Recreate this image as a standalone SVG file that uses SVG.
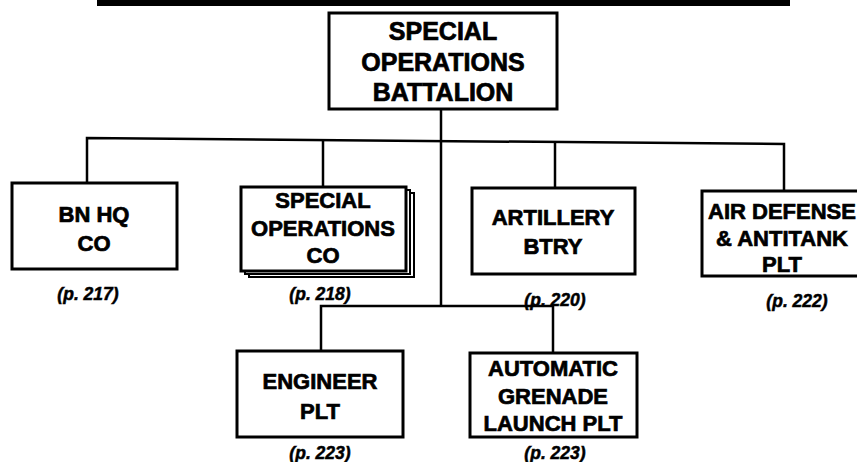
<svg xmlns="http://www.w3.org/2000/svg" width="857" height="462" viewBox="0 0 857 462">
<style>
.box{fill:#fff;stroke:#000;stroke-width:3}
.sh{fill:#fff;stroke:#000;stroke-width:2}
.t{font-family:"Liberation Sans",Arial,sans-serif;font-weight:bold;font-size:22px;text-anchor:middle;fill:#000;stroke:#000;stroke-width:0.7}
.tb{font-size:25px}
.p{font-family:"Liberation Sans",Arial,sans-serif;font-weight:bold;font-style:italic;font-size:17.5px;text-anchor:middle;fill:#000;stroke:#000;stroke-width:0.5}
.c{fill:none;stroke:#000;stroke-width:2.5}
</style>
<rect x="97" y="0" width="693" height="6" fill="#000"/>
<g id="connectors">
<path class="c" d="M441 110 V306"/>
<path class="c" d="M87 183 V138 L784 144 V191"/>
<path class="c" d="M323 140 V187"/>
<path class="c" d="M555 142 V188"/>
<path class="c" d="M321 351 V306 H553 V353"/>
</g>
<g id="battalion">
<rect class="box" x="329" y="13" width="228" height="96"/>
<text class="t tb" x="443" y="40">SPECIAL</text>
<text class="t tb" x="443" y="71">OPERATIONS</text>
<text class="t tb" x="443" y="101">BATTALION</text>
</g>
<g id="bnhq">
<rect class="box" x="12" y="183" width="165" height="86"/>
<text class="t" x="94" y="222">BN HQ</text>
<text class="t" x="94" y="251">CO</text>
<text class="p" x="88" y="300">(p. 217)</text>
</g>
<g id="soco">
<rect class="sh" x="249" y="193" width="165" height="84"/>
<rect class="sh" x="245" y="190" width="165" height="84"/>
<rect class="box" x="241" y="187" width="165" height="84"/>
<text class="t" x="323" y="208">SPECIAL</text>
<text class="t" x="323" y="236">OPERATIONS</text>
<text class="t" x="323" y="263">CO</text>
<text class="p" x="320" y="300">(p. 218)</text>
</g>
<g id="artillery">
<rect class="box" x="472" y="188" width="163" height="86"/>
<text class="t" x="553" y="225">ARTILLERY</text>
<text class="t" x="553" y="254">BTRY</text>
<text class="p" x="555" y="306">(p. 220)</text>
</g>
<g id="airdefense">
<rect class="box" x="702" y="191" width="162" height="85"/>
<text class="t" x="782" y="219">AIR DEFENSE</text>
<text class="t" x="782" y="246">&amp; ANTITANK</text>
<text class="t" x="782" y="272">PLT</text>
<text class="p" x="797" y="307">(p. 222)</text>
</g>
<g id="engineer">
<rect class="box" x="237" y="351" width="166" height="86"/>
<text class="t" x="320" y="389">ENGINEER</text>
<text class="t" x="320" y="419">PLT</text>
<text class="p" x="320" y="459">(p. 223)</text>
</g>
<g id="agl">
<rect class="box" x="470" y="353" width="167" height="84"/>
<text class="t" x="553" y="376">AUTOMATIC</text>
<text class="t" x="553" y="404">GRENADE</text>
<text class="t" x="553" y="431">LAUNCH PLT</text>
<text class="p" x="555" y="459">(p. 223)</text>
</g>
</svg>
